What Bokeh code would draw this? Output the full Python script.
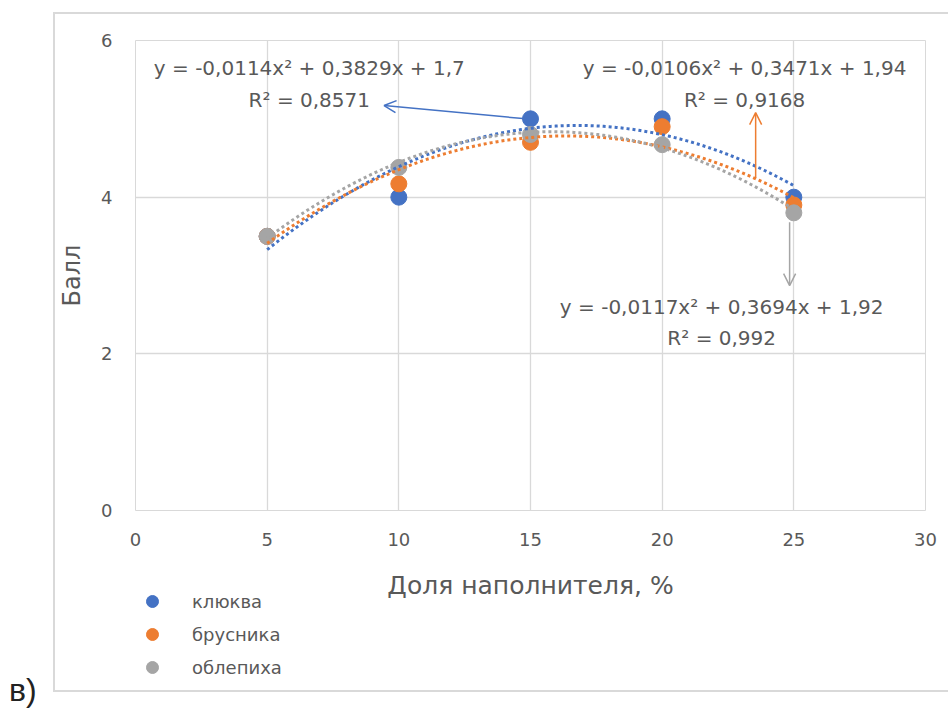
import numpy as np
from bokeh.plotting import figure
from bokeh.models import (Legend, LegendItem, Label, Arrow, OpenHead,
                          FixedTicker, Div, Range1d)
from bokeh.layouts import row, column
from bokeh.embed import file_html
from bokeh.resources import INLINE

# ---- data ----
share = [5, 10, 15, 20, 25]                      # Доля наполнителя, %
cranberry = [3.5, 4.0, 5.0, 5.0, 4.0]           # клюква
lingonberry = [3.5, 4.17, 4.7, 4.9, 3.9]        # брусника
buckthorn = [3.5, 4.38, 4.8, 4.67, 3.8]         # облепиха
series_names = ["клюква", "брусника", "облепиха"]
series_colors = ["#4472C4", "#ED7D31", "#A5A5A5"]
# polynomial trendline coefficients (a, b, c) as printed on the chart
coef_cranberry = [-0.0114, 0.3829, 1.7]
coef_lingonberry = [-0.0106, 0.3471, 1.94]
coef_buckthorn = [-0.0117, 0.3694, 1.92]
eq_texts = ["y = -0,0114x² + 0,3829x + 1,7",
            "y = -0,0106x² + 0,3471x + 1,94",
            "y = -0,0117x² + 0,3694x + 1,92"]
r2_texts = ["R² = 0,8571", "R² = 0,9168", "R² = 0,992"]
x_ticks = [0, 5, 10, 15, 20, 25, 30]
y_ticks = [0, 2, 4, 6]

FONT = "DejaVu Sans"
GREY_TXT = "#595959"
GRID = "#d9d9d9"

# ---------------- main chart ----------------
p = figure(width=893, height=588, output_backend="svg", toolbar_location=None,
           x_range=Range1d(0, 30), y_range=Range1d(0, 6),
           min_border_left=80, min_border_top=26, min_border_right=23,
           min_border_bottom=78)
p.outline_line_color = GRID
p.background_fill_color = "white"
p.border_fill_color = "white"

for ax in (p.xaxis, p.yaxis):
    ax.axis_line_color = None
    ax.major_tick_line_color = None
    ax.minor_tick_line_color = None
    ax.major_label_text_font = FONT
    ax.major_label_text_font_size = "18px"
    ax.major_label_text_color = GREY_TXT
    ax.axis_label_text_font = FONT
    ax.axis_label_text_font_style = "normal"
    ax.axis_label_text_color = GREY_TXT
p.xaxis.ticker = FixedTicker(ticks=x_ticks)
p.yaxis.ticker = FixedTicker(ticks=y_ticks)
p.xaxis.major_label_standoff = 16
p.yaxis.major_label_standoff = 17
p.xaxis.axis_label = "Доля наполнителя, %"
p.xaxis.axis_label_text_font_size = "25px"
p.xaxis.axis_label_standoff = 22
p.yaxis.axis_label = "Балл"
p.yaxis.axis_label_text_font_size = "24px"
p.yaxis.axis_label_standoff = 12
p.xgrid.ticker = FixedTicker(ticks=x_ticks)
p.ygrid.ticker = FixedTicker(ticks=y_ticks)
p.grid.grid_line_color = GRID
p.grid.grid_line_width = 1.3

series = [cranberry, lingonberry, buckthorn]
coefs = [coef_cranberry, coef_lingonberry, coef_buckthorn]

for vals, col in zip(series, series_colors):
    p.scatter(share, vals, size=16, color=col, line_color=col)

xs = np.linspace(min(share), max(share), 200)
for (a, b, c), col in zip(coefs, series_colors):
    p.line(xs, a * xs ** 2 + b * xs + c, line_color=col, line_width=3,
           line_dash="3 3")

# equation labels
label_pos = [(6.6, 5.645, 5.236), (23.13, 5.645, 5.236), (22.26, 2.593, 2.197)]
for (lx, ly1, ly2), eq, r2 in zip(label_pos, eq_texts, r2_texts):
    p.add_layout(Label(x=lx, y=ly1, text=eq, text_align="center",
                       text_baseline="middle", text_font=FONT,
                       text_font_size="20px", text_color=GREY_TXT))
    p.add_layout(Label(x=lx, y=ly2, text=r2, text_align="center",
                       text_baseline="middle", text_font=FONT,
                       text_font_size="20px", text_color=GREY_TXT))

# arrows pointing from curves to labels
arrows = [(14.83, 5.0, 9.44, 5.17), (23.55, 4.24, 23.55, 5.08), (24.84, 3.68, 24.84, 2.87)]
for (x0, y0, x1, y1), col in zip(arrows, series_colors):
    p.add_layout(Arrow(end=OpenHead(size=12, line_color=col, line_width=1.5),
                       x_start=x0, y_start=y0, x_end=x1, y_end=y1,
                       line_color=col, line_width=1.5))

# ---------------- legend strip ----------------
# its own range lies away from the data, so only the legend swatches show
pl = figure(width=893, height=104, output_backend="svg", toolbar_location=None,
            x_range=Range1d(-2, -1), y_range=Range1d(-2, -1),
            x_axis_location=None, y_axis_location=None,
            min_border=0, min_border_left=0, min_border_right=0,
            min_border_top=0, min_border_bottom=0)
pl.grid.visible = False
pl.outline_line_color = None
pl.background_fill_alpha = 0
pl.border_fill_alpha = 0
pl.margin = (-16, 0, 0, 0)
swatches = [pl.scatter(share, vals, size=12, color=col, line_color=col)
            for vals, col in zip(series, series_colors)]
legend = Legend(items=[LegendItem(label=n, renderers=[r])
                       for n, r in zip(series_names, swatches)],
                location=(2, 8), orientation="vertical",
                border_line_color=None, background_fill_alpha=0,
                padding=0, margin=0, spacing=3, glyph_width=30, glyph_height=30,
                label_height=30, label_standoff=25, label_text_font=FONT,
                label_text_font_size="18px", label_text_color=GREY_TXT)
pl.add_layout(legend, "center")

chart = column(p, pl, spacing=0)
chart.margin = (12, 0, 0, 0)
chart.styles = {"border-top": "2px solid #d9d9d9", "border-left": "2px solid #d9d9d9",
                "border-bottom": "2px solid #d9d9d9"}

caption = Div(text='<div style="margin-top:671px;margin-left:9px;font-family:Liberation Sans;'
                   'font-size:32px;line-height:38px;color:#222">в)</div>',
              width=53, height=709, margin=0)

layout = row(caption, chart)
open("out.html", "w").write(file_html(layout, INLINE))
